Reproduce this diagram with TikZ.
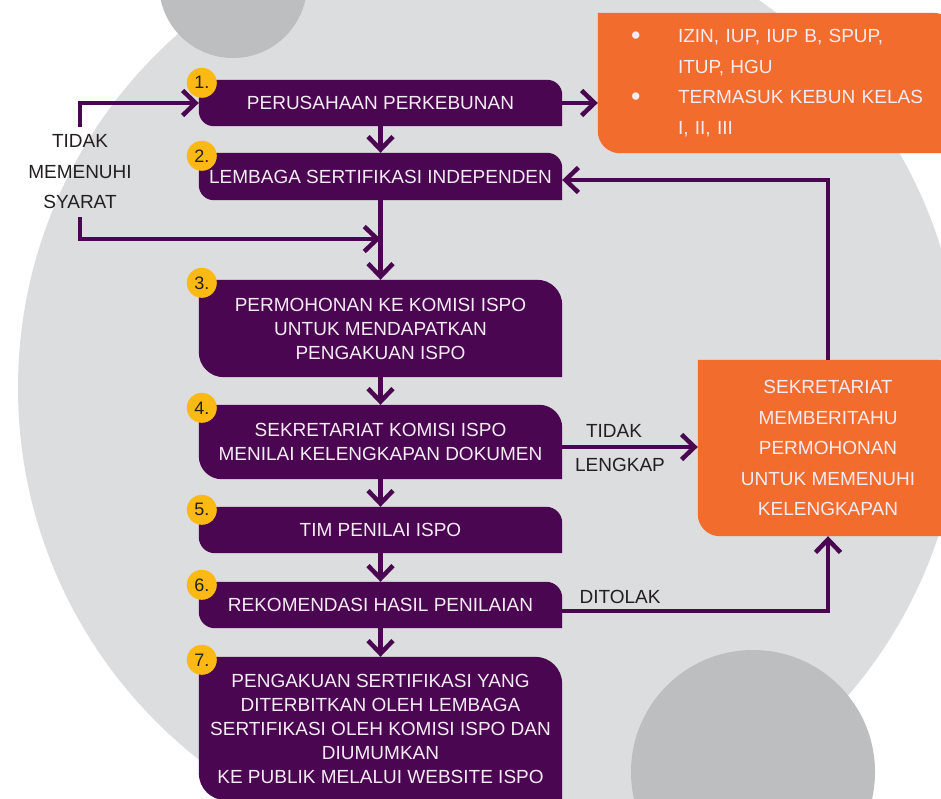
\documentclass[tikz,border=0pt]{standalone}
\usepackage{fontspec}
\setmainfont{Liberation Sans}
\usetikzlibrary{positioning}
\usetikzlibrary{arrows.meta}
\usetikzlibrary{backgrounds}
\definecolor{ispopurple}{HTML}{4A0650}
\definecolor{ispoorange}{HTML}{F26C2D}
\definecolor{ispoyellow}{HTML}{FDB913}
\definecolor{ispogray}{HTML}{DCDDDF}
\definecolor{ispodark}{HTML}{BDBEC0}
\definecolor{ispotext}{HTML}{231F20}
\definecolor{ispowhite}{HTML}{F4ECF4}
\tikzset{>={Straight Barb[length=13pt,width=25pt]}}
\tikzset{flow/.style={draw=ispopurple, line width=4.5pt}}
\tikzset{stepbox/.style={inner sep=0pt, minimum width=363pt, text=ispowhite, align=center, font=\fontsize{19}{24}\selectfont}}
\tikzset{notebox/.style={inner sep=0pt, text=ispowhite, font=\fontsize{19}{30.5}\selectfont}}
\tikzset{badge/.style={circle, fill=ispoyellow, minimum size=30pt, inner sep=0pt, text=ispotext, font=\fontsize{18}{18}\selectfont}}
\tikzset{lbl/.style={inner sep=0pt, text=ispotext, align=center, font=\fontsize{19}{30.5}\selectfont}}
\newcommand{\tabshape}[3]{\fill[#2] (#1.north west) -- ([xshift=-#3]#1.north east)
  arc[start angle=90, end angle=0, radius=#3] -- (#1.south east)
  -- ([xshift=#3]#1.south west) arc[start angle=270, end angle=180, radius=#3] -- cycle;}
\newcommand{\dotitem}{\hspace*{33pt}\makebox[47pt][l]{\raisebox{-1.5pt}{\fontsize{27}{0}\selectfont\textbullet}}}

\begin{document}
\begin{tikzpicture}[x=1pt,y=-1pt]
\useasboundingbox (0,0) rectangle (941,798);

%%% Steps:

\node[stepbox, minimum height=46pt] (b1) at (380.5,103) {PERUSAHAAN PERKEBUNAN};
\node[stepbox, minimum height=47pt] (b2) at (380.5,176.5) {LEMBAGA SERTIFIKASI INDEPENDEN};
\node[stepbox, minimum height=97pt] (b3) at (380.5,328.5) {PERMOHONAN KE KOMISI ISPO\\UNTUK MENDAPATKAN\\PENGAKUAN ISPO};
\node[stepbox, minimum height=74pt] (b4) at (380.5,442) {SEKRETARIAT KOMISI ISPO\\MENILAI KELENGKAPAN DOKUMEN};
\node[stepbox, minimum height=46pt] (b5) at (380.5,530) {TIM PENILAI ISPO};
\node[stepbox, minimum height=46pt] (b6) at (380.5,605) {REKOMENDASI HASIL PENILAIAN};
\node[stepbox, minimum height=143pt] (b7) at (380.5,728.5) {PENGAKUAN SERTIFIKASI YANG\\DITERBITKAN OLEH LEMBAGA\\SERTIFIKASI OLEH KOMISI ISPO DAN\\DIUMUMKAN\\KE PUBLIK MELALUI WEBSITE ISPO};

\node[badge] (n1) at ([shift={(3,3)}]b1.north west) {1.};
\node[badge] (n2) at ([shift={(3,3)}]b2.north west) {2.};
\node[badge] (n3) at ([shift={(3,3)}]b3.north west) {3.};
\node[badge] (n4) at ([shift={(3,3)}]b4.north west) {4.};
\node[badge] (n5) at ([shift={(3,3)}]b5.north west) {5.};
\node[badge] (n6) at ([shift={(3,3)}]b6.north west) {6.};
\node[badge] (n7) at ([shift={(3,3)}]b7.north west) {7.};

%%% Side boxes:

\node[notebox, minimum width=357pt, minimum height=140pt, text width=357pt, align=left] (oa) at (776.5,83)
 {\dotitem IZIN, IUP, IUP B, SPUP,\\
  \hspace*{80pt}ITUP, HGU\\
  \dotitem TERMASUK KEBUN KELAS\\
  \hspace*{80pt}I, II, III};
\node[notebox, minimum width=260pt, minimum height=176pt, align=center] (ob) at (828,448)
 {SEKRETARIAT\\MEMBERITAHU\\PERMOHONAN\\UNTUK MEMENUHI\\KELENGKAPAN};

\node[lbl] (nogo) at (80,172) {TIDAK\\MEMENUHI\\SYARAT};
\node[lbl] (tidak) at (614,431) {TIDAK};
\node[lbl] (lengkap) at (620,465) {LENGKAP};
\node[lbl] (tolak) at (620,597) {DITOLAK};

%%% Arrows:

\coordinate (join) at (380.5,239);
\draw[flow,->] (b1.south) -- (b2.north);
\draw[flow,->] (b2.south) -- (b3.north);
\draw[flow,->] (b3.south) -- (b4.north);
\draw[flow,->] (b4.south) -- (b5.north);
\draw[flow,->] (b5.south) -- (b6.north);
\draw[flow,->] (b6.south) -- (b7.north);

\draw[flow,->] ([yshift=8pt]nogo.north) |- (b1.west);
\draw[flow,->] ([yshift=-8pt]nogo.south) |- (join);

\draw[flow,->] (b1.east) -- (oa.west |- b1.east);
\draw[flow,->] (ob.north) |- ([yshift=-3.5pt]b2.east);
\draw[flow,->] ([yshift=-5pt]b4.east) -- ([yshift=-5pt]b4.east -| ob.west);
\draw[flow,->] ([yshift=-6pt]b6.east) -| (ob.south);

%%% Background:

\begin{scope}[on background layer]
\clip (0,0) rectangle (941,798);
\fill[white] (0,0) rectangle (941,798);
\fill[ispogray] (490,388) circle[radius=472pt];
\fill[ispodark] (233,-16) circle[radius=74pt];
\fill[ispodark] (753,772) circle[radius=122pt];
\tabshape{b1}{ispopurple}{15pt}
\tabshape{b2}{ispopurple}{15pt}
\tabshape{b3}{ispopurple}{25pt}
\tabshape{b4}{ispopurple}{23pt}
\tabshape{b5}{ispopurple}{16pt}
\tabshape{b6}{ispopurple}{16pt}
\tabshape{b7}{ispopurple}{27pt}
\tabshape{oa}{ispoorange}{22pt}
\tabshape{ob}{ispoorange}{22pt}
\end{scope}
\end{tikzpicture}
\end{document}
